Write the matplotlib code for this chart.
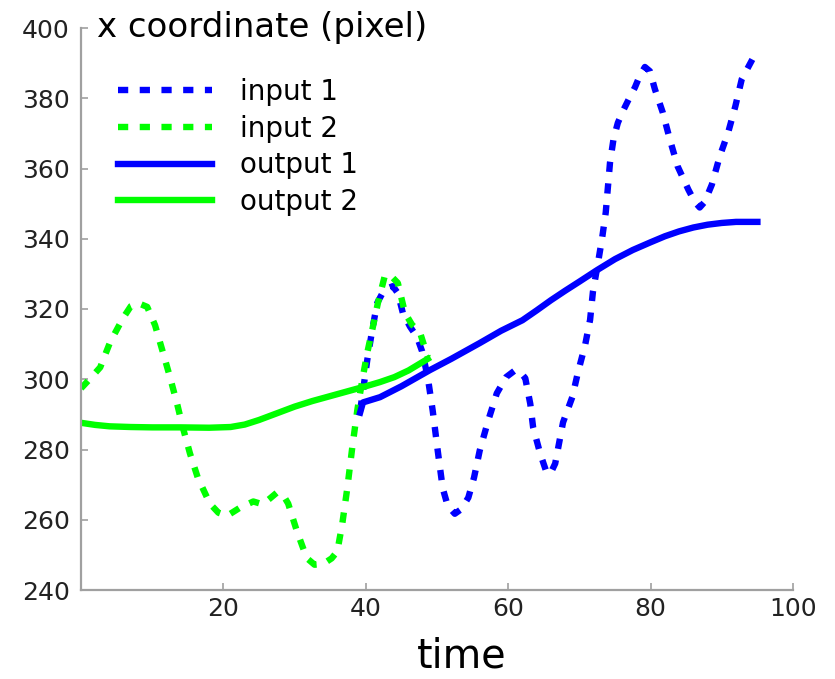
import matplotlib
matplotlib.use("Agg")
import matplotlib.pyplot as plt

# Input trajectories (dashed)
input1_t = [39.2, 39.7, 40.2, 40.9, 41.6, 42.6, 43.8, 44.5, 45.2, 46.2, 47.2, 47.9,
            48.7, 49.4, 50.1, 50.8, 51.5, 52.5, 53.4, 54.4, 55.2, 56.0, 57.2, 58.4,
            59.7, 61.0, 61.7, 62.4, 63.1, 63.5, 64.5, 65.3, 65.9, 66.6, 67.7, 69.0,
            69.8, 70.8, 71.5, 71.9, 72.6, 73.2, 73.7, 74.0, 74.3, 74.8, 75.4, 76.1,
            77.0, 77.8, 78.5, 79.2, 79.9, 80.6, 81.7, 82.7, 83.8, 85.3, 86.2, 86.9,
            87.6, 88.6, 89.7, 90.9, 91.9, 92.8, 94.7]
input1_x = [291.0, 298.0, 305.4, 314.0, 321.7, 325.5, 326.5, 324.5, 318.9, 315.0, 312.0, 308.0,
            300.6, 291.0, 279.7, 269.0, 264.0, 261.7, 263.0, 266.3, 272.0, 279.7, 288.3, 296.0,
            300.6, 302.6, 302.0, 300.3, 293.0, 286.3, 278.8, 274.0, 273.0, 276.0, 287.7, 294.9,
            302.0, 309.7, 316.9, 324.9, 333.0, 340.3, 347.5, 354.6, 361.7, 368.5, 373.0, 376.3,
            380.0, 383.1, 386.5, 388.9, 387.7, 382.6, 376.0, 368.3, 360.6, 354.0, 350.5, 348.9,
            350.5, 355.4, 363.4, 370.3, 377.7, 385.4, 392.6]

input2_t = [0.0, 1.2, 2.7, 4.1, 5.9, 7.0, 8.0, 9.3, 10.4, 11.5, 12.5, 13.5, 14.3, 15.3,
            16.4, 18.1, 19.3, 20.5, 22.3, 24.2, 25.5, 26.5, 27.5, 28.4, 29.1, 30.3, 31.7,
            32.8, 34.0, 35.2, 36.0, 36.7, 37.4, 38.1, 38.8, 39.5, 40.2, 40.9, 41.7, 42.7,
            43.5, 44.5, 45.5, 46.5, 47.6, 48.7]
input2_x = [297.4, 300.0, 303.4, 310.6, 317.4, 320.8, 321.7, 320.6, 315.4, 307.7, 300.6, 293.0,
            286.3, 278.9, 272.0, 264.6, 262.0, 261.1, 263.4, 265.2, 264.4, 266.0, 267.7, 267.0,
            264.6, 256.9, 249.1, 247.2, 247.4, 249.0, 251.0, 258.9, 269.0, 280.6, 291.1, 299.7,
            307.5, 314.0, 321.7, 329.7, 329.5, 327.4, 318.9, 315.5, 313.4, 306.3]

# Smoothed outputs (solid)
output1_t = [39.2, 39.6, 42.0, 45.0, 49.0, 52.0, 56.0, 59.0, 62.0, 64.0, 66.0, 68.0,
             70.0, 72.5, 75.0, 77.5, 80.0, 82.0, 84.0, 86.0, 88.0, 90.0, 92.0, 95.0]
output1_x = [290.5, 293.4, 294.9, 298.0, 302.6, 305.8, 310.3, 313.8, 316.8, 319.6, 322.5, 325.2,
             327.8, 331.1, 334.2, 336.8, 339.0, 340.7, 342.1, 343.2, 344.0, 344.5, 344.8, 344.8]

output2_t = [0.0, 2.0, 4.0, 7.0, 10.0, 14.0, 18.0, 21.0, 23.0, 25.0, 27.5, 30.0,
             32.5, 35.0, 37.5, 40.0, 42.0, 44.0, 46.0, 48.7]
output2_x = [287.6, 287.0, 286.6, 286.4, 286.3, 286.3, 286.2, 286.4, 287.1, 288.4, 290.3, 292.2,
             293.8, 295.2, 296.6, 298.0, 299.2, 300.6, 302.5, 305.8]

labels = ["input 1", "input 2", "output 1", "output 2"]
x_ticks = [20, 40, 60, 80, 100]
y_ticks = [240, 260, 280, 300, 320, 340, 360, 380, 400]

BLUE = "#0000ff"
GREEN = "#00ff00"

W, H = 835, 679
fig = plt.figure(figsize=(W / 100, H / 100), dpi=100)
ax = fig.add_axes([81 / W, 1 - 590 / H, (793 - 81) / W, (590 - 28) / H])

lw = 4.6
dash = (1.6, 1.8)
ax.plot(input1_t, input1_x, color=BLUE, lw=lw, linestyle=(0, dash), label=labels[0])
ax.plot(input2_t, input2_x, color=GREEN, lw=lw, linestyle=(0, dash), label=labels[1])
ax.plot(output1_t, output1_x, color=BLUE, lw=lw, label=labels[2])
ax.plot(output2_t, output2_x, color=GREEN, lw=lw, label=labels[3])

ax.set_xlim(0, 100)
ax.set_ylim(240, 400)
ax.set_xticks(x_ticks)
ax.set_yticks(y_ticks)

for s in ("top", "right"):
    ax.spines[s].set_visible(False)
for s in ("left", "bottom"):
    ax.spines[s].set_color("#a0a0a0")
    ax.spines[s].set_linewidth(1.6)

ax.tick_params(axis="both", direction="in", length=5, width=1.2, color="#a0a0a0",
               labelsize=18, labelcolor="#222222")
ax.tick_params(axis="y", pad=8)
ax.tick_params(axis="x", pad=5)

fig.text(97 / W, 1 - 37 / H, "x coordinate (pixel)", fontsize=24.5, color="black",
         ha="left", va="baseline")
fig.text(462 / W, 1 - 677 / H, "time", fontsize=28.5, color="black",
         ha="center", va="bottom")

ax.legend(loc="upper left", bbox_to_anchor=(118 / W, 1 - 78 / H),
          bbox_transform=fig.transFigure, frameon=False, fontsize=20,
          handlelength=3.4, handletextpad=1.0, labelspacing=0.31,
          borderpad=0, borderaxespad=0)

fig.savefig("out.png", dpi=100)
